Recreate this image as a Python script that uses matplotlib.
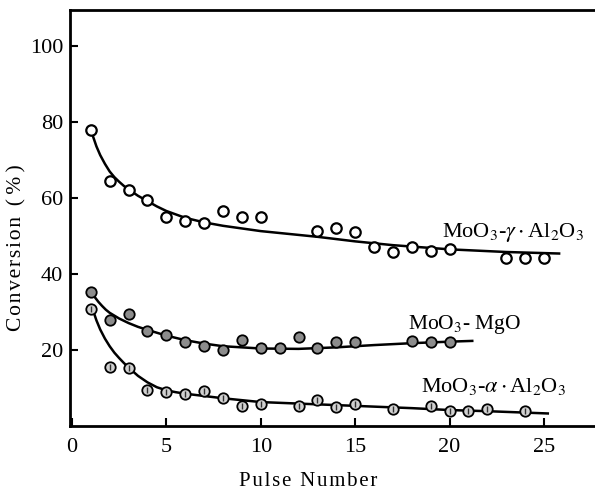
import matplotlib
matplotlib.use("Agg")
import matplotlib.pyplot as plt

plt.rcParams["font.family"] = ["Liberation Serif", "DejaVu Serif"]
plt.rcParams["mathtext.fontset"] = "stix"

# measured points
pulse_gamma = [1, 2, 3, 4, 5, 6, 7, 8, 9, 10, 13, 14, 15, 16, 17, 18, 19, 20, 23, 24, 25]
conv_gamma = [78, 64.5, 62, 59.5, 55, 54, 53.5, 56.5, 55, 55, 51.3, 52.2, 51, 47, 45.8, 47.2, 46, 46.5, 44.2, 44.1, 44.1]

pulse_mgo = [1, 2, 3, 4, 5, 6, 7, 8, 9, 10, 11, 12, 13, 14, 15, 18, 19, 20]
conv_mgo = [35.2, 28, 29.6, 25, 24, 22, 21, 20, 22.6, 20.4, 20.4, 23.3, 20.4, 22, 22, 22.5, 22.2, 22.2]

pulse_alpha = [1, 2, 3, 4, 5, 6, 7, 8, 9, 10, 12, 13, 14, 15, 17, 19, 20, 21, 22, 24]
conv_alpha = [30.7, 15.4, 15.2, 9.5, 9, 8.4, 9.2, 7.5, 5.3, 5.7, 5.3, 6.8, 5.1, 5.9, 4.6, 5.3, 3.9, 3.9, 4.4, 3.9]

# fitted curves
fit_gamma_x = [1.1, 1.3, 1.5, 1.75, 2, 2.25, 2.5, 2.75, 3, 3.5, 4, 4.5, 5, 6, 7, 8, 10, 13, 15, 17, 20, 23, 25.8]
fit_gamma_y = [76.5, 73.6, 71.3, 69, 67, 65.5, 64.3, 63.2, 62.3, 60.6, 59.2, 57.8, 56.6, 54.8, 53.6, 52.7, 51.3, 49.8, 48.6, 47.6, 46.5, 45.8, 45.4]

fit_mgo_x = [1.2, 1.4, 1.6, 1.8, 2, 2.5, 3, 3.5, 4, 5, 6, 7, 8, 10, 12, 14, 16, 18, 20, 21.2]
fit_mgo_y = [34, 32.7, 31.6, 30.6, 29.8, 28.3, 27.1, 26.1, 25.3, 23.8, 22.6, 21.7, 21, 20.4, 20.3, 20.7, 21.3, 21.8, 22.2, 22.4]

fit_alpha_x = [1.15, 1.3, 1.5, 1.75, 2, 2.25, 2.5, 2.75, 3, 3.5, 4, 4.5, 5, 5.5, 6, 7, 8, 10, 12, 15, 18, 20, 22, 25.2]
fit_alpha_y = [30, 27.8, 25.4, 23, 21, 19.3, 17.9, 16.6, 15.4, 13.2, 11.5, 10.2, 9.4, 8.9, 8.5, 7.9, 7.3, 6.3, 5.9, 5.3, 4.7, 4.2, 3.9, 3.3]

fig = plt.figure(figsize=(5.95, 4.92), dpi=100)
ax = fig.add_axes([70 / 595, 66 / 492, 525 / 595, 416 / 492])

for fx, fy in [(fit_gamma_x, fit_gamma_y), (fit_mgo_x, fit_mgo_y), (fit_alpha_x, fit_alpha_y)]:
    ax.plot(fx, fy, color="black", lw=1.8, zorder=2)

ax.plot(pulse_gamma, conv_gamma, "o", ms=7.5, mfc="white", mec="black", mew=1.6, zorder=3)
ax.plot(pulse_mgo, conv_mgo, "o", ms=7.5, mfc="#8c8c8c", mec="black", mew=1.3, zorder=3)
ax.plot(pulse_alpha, conv_alpha, "o", ms=7.5, mfc="#d0d0d0", mec="black", mew=1.3, zorder=3)
ax.plot(pulse_alpha, conv_alpha, "|", ms=4, mec="#303030", mew=1.0, zorder=4)

ax.text(19.6, 51, r"MoO$_3$-$\gamma\cdot$Al$_2$O$_3$", fontsize=16, va="center")
ax.text(17.8, 26.6, r"MoO$_3$- MgO", fontsize=15.5, va="center")
ax.text(18.5, 10.3, r"MoO$_3$-$\alpha\cdot$Al$_2$O$_3$", fontsize=16, va="center")

ax.set_xlim(-0.1, 27.7)
ax.set_ylim(0, 109.5)
ax.set_xticks([0, 5, 10, 15, 20, 25])
ax.set_yticks([20, 40, 60, 80, 100])
ax.tick_params(direction="in", length=6, width=1.5, labelsize=16)
ax.tick_params(axis="y", pad=5)
ax.tick_params(axis="x", pad=9)
ax.spines["right"].set_visible(False)
for s in ["left", "top", "bottom"]:
    ax.spines[s].set_linewidth(2)

hs = "\u200a"
fig.text(308 / 595, 1 - 482 / 492, hs.join("Pulse Number"),
         fontsize=15, ha="center", va="center")
fig.text(17 / 595, 1 - 248 / 492, hs.join("Conversion") + "  (\u2009%\u2009)",
         fontsize=15.5, ha="center", va="center", rotation=90)

fig.savefig("out.png", dpi=100)
